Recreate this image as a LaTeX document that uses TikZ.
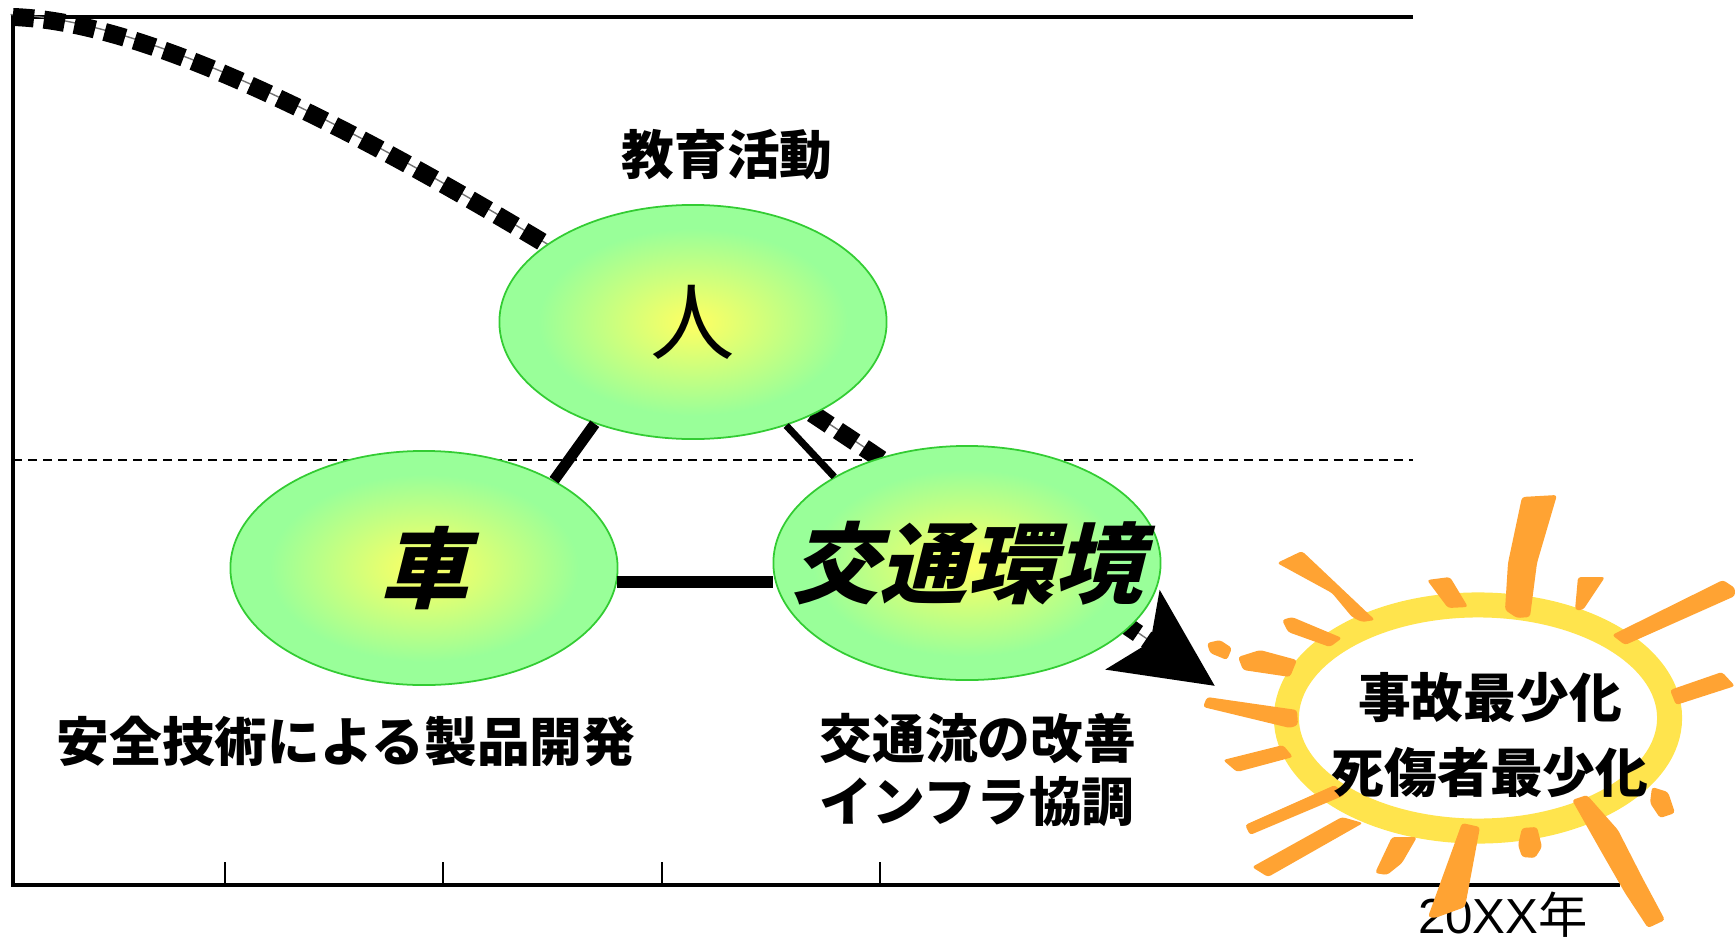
\documentclass[tikz,border=0pt]{standalone}
\usepackage{fontspec}
\setmainfont{Noto Sans CJK JP}
\newfontfamily\latinfont{Liberation Sans}
\newfontfamily\slantfont{Noto Sans CJK JP}[FakeSlant=0.25]
\usepackage{tikz}
\usetikzlibrary{shapes.geometric}
\usetikzlibrary{arrows.meta}

\definecolor{lenscore}{HTML}{F8FF66}
\definecolor{lensrim}{HTML}{99FF99}
\definecolor{lensedge}{HTML}{33CC33}
\definecolor{sunyellow}{HTML}{FFE44D}
\definecolor{sunorange}{HTML}{FFA333}
\pgfdeclareradialshading{lensglow}{\pgfpoint{0bp}{0bp}}{color(0bp)=(lenscore); color(1.5bp)=(lenscore); color(20bp)=(lensrim); color(50bp)=(lensrim)}

\begin{document}
\begin{tikzpicture}[x=0.01cm, y=-0.01cm,
    lens/.style={shape=ellipse, draw=lensedge, line width=0.5pt, shade, shading=lensglow,
        minimum width=3.87cm, minimum height=2.34cm, inner sep=0pt},
    caption/.style={font=\bfseries\fontsize{15pt}{18pt}\selectfont, inner sep=0pt},
    link/.style={draw=black, preaction={draw=black!55, transform canvas={shift={(-2,-2)}}}},
    trend/.style={line width=0.18cm, dash pattern=on 0.21cm off 0.1cm,
        -{Stealth[length=0.98cm, width=0.93cm, inset=0.2cm]},
        preaction={draw=black!55, transform canvas={shift={(-2.5,-2.5)}}}},
    ray/.style={fill=sunorange, rounded corners=0.03cm}]
    \useasboundingbox (0,0) rectangle (1735,945);

    % frame and time axis
    \coordinate (origin) at (13,17);
    \coordinate (topEnd) at (1413,17);
    \coordinate (corner) at (13,885);
    \coordinate (axisEnd) at (1620,885);
    \draw[line width=0.045cm] (topEnd) -- (origin) -- (corner) -- (axisEnd);
    \foreach \x in {225,443,662,880}
        \draw[line width=0.015cm] (\x,862) -- (\x,885);
    \node[font=\fontsize{14pt}{17pt}\selectfont, inner sep=0pt] (year) at (1503,915) {{\latinfont 20XX}年};

    % target level
    \coordinate (levelL) at (13,460);
    \coordinate (levelR) at (1413,460);
    \draw[line width=0.015cm, dash pattern=on 0.09cm off 0.06cm] (levelL) -- (levelR);

    % trend towards the goal
    \coordinate (tip) at (1215,686);
    \draw[trend] (origin) .. controls (250,25) and (715,345) .. (tip);

    \node[lens, font=\fontsize{24pt}{28pt}\selectfont] (hito) at (693,322) {人};
    \node[lens, font=\slantfont\bfseries\fontsize{25pt}{30pt}\selectfont] (kuruma) at (424,568) {車};
    \node[lens, font=\slantfont\bfseries\fontsize{25pt}{30pt}\selectfont] (kotsu) at (967,563) {\makebox[0pt]{交通環境}};

    \path[link, line width=0.11cm] (hito.226) edge (kuruma.34);
    \path[link, line width=0.07cm] (hito.312) edge (kotsu.147);
    \path[link, line width=0.12cm] (kuruma.-4) edge (kuruma.-4 -| kotsu.west);

    \node[caption] (kyoiku) at (727,155) {教育活動};
    \node[caption] (gijutsu) at (346,741) {安全技術による製品開発};
    \node[caption, anchor=west, align=left, font=\bfseries\fontsize{15pt}{17.9pt}\selectfont] (kaizen) at (819,770) {交通流の改善\\インフラ協調};

    % the sun
    \node[shape=ellipse, draw=sunyellow, fill=white, line width=0.25cm,
        minimum width=3.83cm, minimum height=2.26cm] (sun) at (1478,718) {};
    \fill[ray] (1522,497) -- (1557,495) -- (1537,563) -- (1530,617) -- (1517,618) -- (1505,610) -- (1508,563) -- cycle;
    \fill[ray] (1277,563) -- (1302,551) -- (1375,620) -- (1362,622) -- (1352,617) -- (1332,593) -- cycle;
    \fill[ray] (1427,580) -- (1450,577) -- (1468,607) -- (1448,608) -- cycle;
    \fill[ray] (1578,577) -- (1605,577) -- (1583,610) -- (1575,610) -- cycle;
    \fill[ray] (1612,635) -- (1723,580) -- (1735,588) -- (1735,596) -- (1625,645) -- cycle;
    \fill[ray] (1670,690) -- (1722,672) -- (1735,686) -- (1676,705) -- cycle;
    \fill[ray] (1282,620) -- (1292,617) -- (1342,638) -- (1330,647) -- (1288,632) -- cycle;
    \fill[ray] (1238,657) -- (1260,650) -- (1297,660) -- (1290,677) -- (1243,670) -- cycle;
    \fill[ray] (1207,643) -- (1220,640) -- (1232,648) -- (1227,660) -- (1210,653) -- cycle;
    \fill[ray] (1207,697) -- (1297,710) -- (1298,725) -- (1290,728) -- (1203,707) -- cycle;
    \fill[ray] (1223,760) -- (1283,745) -- (1293,757) -- (1237,772) -- cycle;
    \fill[ray] (1245,825) -- (1335,785) -- (1345,795) -- (1250,835) -- cycle;
    \fill[ray] (1252,867) -- (1342,817) -- (1363,823) -- (1268,877) -- cycle;
    \fill[ray] (1392,837) -- (1417,837) -- (1402,863) -- (1387,875) -- (1375,873) -- cycle;
    \fill[ray] (1462,823) -- (1480,827) -- (1472,870) -- (1465,907) -- (1435,918) -- (1428,917) -- (1445,870) -- cycle;
    \fill[ray] (1522,828) -- (1537,827) -- (1542,847) -- (1535,858) -- (1522,857) -- (1518,845) -- cycle;
    \fill[ray] (1572,800) -- (1587,795) -- (1618,830) -- (1642,877) -- (1665,920) -- (1648,928) -- (1625,893) -- (1602,853) -- cycle;
    \fill[ray] (1652,787) -- (1668,792) -- (1675,813) -- (1660,818) -- (1650,803) -- cycle;
    \node[caption, align=center, font=\bfseries\fontsize{15pt}{21.3pt}\selectfont] (goal) at (1490,735) {事故最少化\\死傷者最少化};
\end{tikzpicture}
\end{document}
